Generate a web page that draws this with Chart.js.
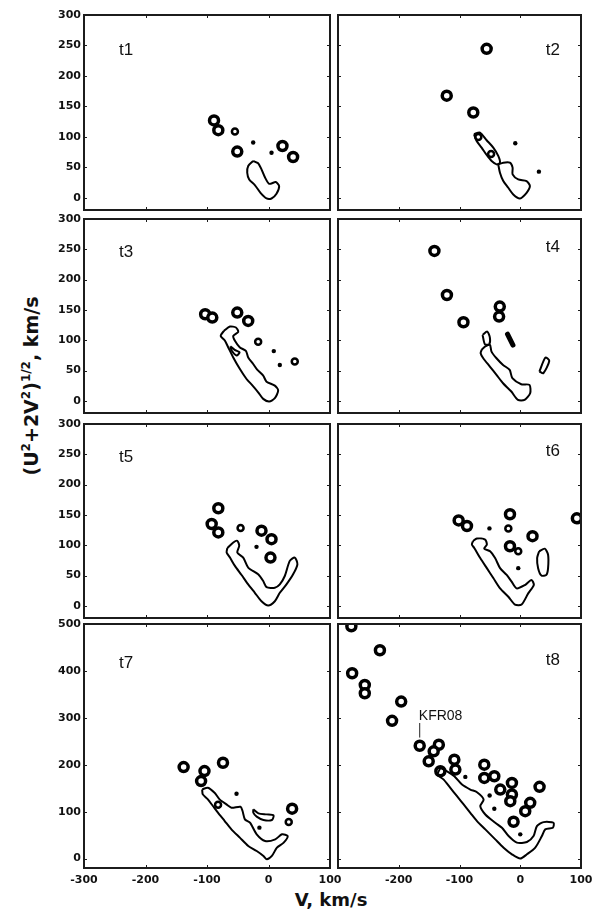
<!DOCTYPE html>
<html>
<head>
<meta charset="utf-8">
<script src="https://cdn.jsdelivr.net/npm/chart.js@4.4.0/dist/chart.umd.min.js"></script>
<style>
  body { margin: 0; background: #fff; width: 601px; height: 924px; position: relative; overflow: hidden; }
  canvas { position: absolute; }
  .ytitle {
    position: absolute; left: 31px; top: 386px;
    transform: translate(-50%, -50%) rotate(-90deg);
    font: bold 19px "DejaVu Sans"; white-space: nowrap; color: #111; line-height: 24px;
  }
  .ytitle sup { font-size: 12px; vertical-align: 8px; line-height: 0; }
  .xtitle {
    position: absolute; left: 331px; top: 889px; transform: translateX(-50%);
    font: bold 18px "DejaVu Sans"; white-space: nowrap; color: #111; line-height: 21px;
  }
</style>
</head>
<body>
<div class="ytitle">(U<sup>2</sup>+2V<sup>2</sup>)<sup>1/2</sup>, km/s</div>
<div class="xtitle">V, km/s</div>
<script>
// V, km/s and (U^2+2V^2)^1/2, km/s
const xTicks = [-300, -200, -100, 0, 100];

const t1Contour = [[-24.9,60.4],[-33,52.2],[-34.6,41.2],[-31.4,30.2],[-22.2,20.9],[-13,8.2],[-3.2,-1.1],[4.9,-1.1],[13,6.6],[17.3,19.2],[11.9,25.8],[1.1,23],[-6,34],[-11.4,46.7],[-16.8,56.6]];
const t1Rings = [[-88.6,127],[-81.6,111],[-50.8,75.8],[22.7,85],[40,67]];
const t1SmallRings = [[-54.6,108.8]];
const t1Dots = [[-24.9,90.7],[4.9,74]];

const t2Chain = [[-76.2,104.4],[-66.3,107.1],[-55.3,94.5],[-44.4,82.4],[-36.2,68.7],[-33.4,57.7],[-38.9,54.9],[-47.1,60.4],[-55.3,70.3],[-63.6,82.4],[-71.8,93.4]];
const t2Contour = [[-36.2,54.9],[-27.9,57.7],[-17,57.7],[-12.6,49.5],[-12.6,38.5],[-3.3,30.2],[10.4,27.5],[15.9,19.2],[10.4,8.2],[-0.5,-1.1],[-11.5,5.5],[-19.7,16.5],[-27.9,27.5],[-33.4,41.2]];
const t2Rings = [[-55.3,244.5],[-121,167.6],[-77.3,140]];
const t2SmallRings = [[-69,100],[-48,72]];
const t2Dots = [[-8.2,89.6],[30.7,42.9]];

const t3Contour = [[-72.4,115.5],[-62.7,122.6],[-53,121],[-49.2,113.8],[-57.3,107.3],[-54.6,99.1],[-46.5,88.1],[-36.8,82.6],[-33,71.7],[-24.9,60.8],[-18.4,51.5],[-8.6,41.6],[-3.2,31.7],[10.3,25.2],[15.7,17],[10.3,4.4],[1.1,-1.1],[-8.6,3.3],[-16.8,14.2],[-25.9,25.2],[-35.7,36.1],[-46.5,52.5],[-57.3,71.7],[-65.4,88.1],[-70.8,99.1],[-77.8,107.3]];
const t3Inner = [[-62,90],[-55,84],[-47,80],[-52,75],[-60,83]];
const t3Rings = [[-103,142.9],[-91.4,137.4],[-50.8,145.6],[-33,131.9]];
const t3SmallRings = [[-16.8,97.4],[42.7,65.1]];
const t3Dots = [[8.6,82.1],[18.4,59.1]];

const t4Contour = [[-63.6,84.1],[-58.2,89.6],[-50,92.3],[-47.3,81.3],[-39.1,70.3],[-28.3,59.3],[-17.4,51.1],[-13,37.4],[1.6,27.5],[15.2,26.4],[16.3,12.6],[7.1,1.6],[-3.8,1.6],[-14.7,15.4],[-28.3,29.1],[-39.1,42.9],[-50,56.6],[-60.9,70.3],[-65.2,78.6]];
const t4Top = [[-62,108.8],[-54.3,114.3],[-50,104.4],[-51.1,93.4],[-58.2,93.4]];
const t4Oval = [[31.5,48.4],[41.3,71.4],[47.8,65.9],[38,45.6]];
const t4Dash = [[-21,110],[-12,92]];
const t4Rings = [[-141.3,247.3],[-120.7,174.7],[-93.5,129.7],[-33.7,155.5],[-34.8,139]];

const t5Contour = [[-67,95.2],[-57.3,104.6],[-50.8,107.4],[-47.6,99.1],[-50.8,88],[-41.1,79.7],[-33,63.1],[-16.8,52],[-8.6,41],[-3.2,31],[10.3,29.9],[18.4,35.4],[26.5,49.3],[34.6,74.2],[42.7,79.7],[47,68.6],[40,52],[29.2,35.4],[18.4,21.6],[10.3,7.7],[-0.5,0.6],[-11.4,7.7],[-22.2,21.6],[-33,35.4],[-43.8,50.9],[-54.6,65.9],[-62.7,79.7],[-68.1,88]];
const t5Rings = [[-81.6,161],[-92.4,135],[-81.6,121.2],[-11.4,124],[4.9,110.1],[3.2,79.7]];
const t5SmallRings = [[-45.4,128.4]];
const t5Dots = [[-19.5,97.4]];

const t6Contour = [[-77.9,106.7],[-71.4,111.1],[-57.8,109.4],[-55,101.1],[-59.4,94.4],[-49.6,90],[-41.4,78.9],[-33.2,62.2],[-22.3,51.1],[-14.2,40],[-6,28.9],[7.6,34.4],[18.5,42.8],[22.3,34.4],[13.1,20.6],[2.2,2.2],[-8.7,2.2],[-19.6,15],[-33.2,28.9],[-44.1,45.6],[-55,62.2],[-65.9,78.9],[-75.7,95.6],[-79.6,101.1]];
const t6Oval = [[31.1,90],[40.3,94.4],[45.8,84.4],[45.8,62.2],[43,51.1],[34.9,50],[29.4,62.2],[27.8,78.9]];
const t6Rings = [[-101.4,141],[-87.7,131.7],[-16.9,151.1],[20.2,115],[93.2,144.4],[-16.9,98.3]];
const t6SmallRings = [[-19.6,127.8],[-3.3,90]];
const t6Dots = [[-50.7,127.8],[-3.3,62.2]];

const t7Contour = [[-107.9,147.5],[-98.6,151.1],[-87.7,140.4],[-79.5,126.2],[-68.5,115.6],[-60.3,108.5],[-45.5,110.6],[-42.2,101.4],[-38.4,83.7],[-30.1,76.6],[-19.2,51.8],[-5.5,37.6],[11,41.1],[21.9,51.8],[31.2,48.2],[24.7,34],[13.7,23.4],[5.5,5.7],[-2.7,-1.4],[-8.2,5.7],[-19.2,16.3],[-32.9,27],[-46.6,44.7],[-60.3,62.4],[-71.2,80.1],[-82.2,97.9],[-90.4,112.1],[-98.6,126.2],[-106.8,136.9]];
const t7Loop = [[-24.7,105],[-16.4,96.5],[-2.7,94.3],[8.2,92.2],[5.5,82.3],[-8.2,82.3],[-19.2,89.4],[-24.7,97.9]];
const t7Rings = [[-138,195],[-74,204.3],[-104.1,186.5],[-109.6,165.2],[38.4,106.4]];
const t7SmallRings = [[32.9,78],[-82,115]];
const t7Dots = [[-52,138.3],[-14.8,66]];

const t8Contour = [[-131.5,193.2],[-120.5,186.1],[-108.5,175.5],[-95.9,157.8],[-82.2,147.2],[-71.2,141.5],[-60.3,126],[-65.8,111.8],[-57.5,94.1],[-41.1,76.4],[-30.1,65.8],[-19.2,48.1],[-5.5,34],[11,35.4],[21.9,48.1],[27.4,69.4],[38.4,77.8],[54.8,76.4],[53.7,65.8],[41.1,62.3],[35.6,48.1],[24.7,23.4],[11,9.2],[0,0],[-13.7,9.2],[-27.4,23.4],[-41.1,41],[-57.5,62.3],[-71.2,80],[-82.2,97.7],[-93.2,115.4],[-104.1,133],[-115.1,150.7],[-126,168.4],[-135.9,179]];
const t8Rings = [[-278,495],[-231,444],[-276.7,395],[-255.9,370],[-255.9,352.4],[-196,334.7],[-211,293.7],[-165.5,240.6],[-134,242.7],[-142.5,228.6],[-150.7,207.4],[-108.5,210.9],[-106.8,189.7],[-131.5,186.1],[-59.2,200.3],[-59.2,172],[-42.7,175.5],[-32.9,147.2],[-13.7,161.4],[-13.7,136.6],[-16.4,122.4],[16.4,118.9],[8.2,101.2],[31.8,152.9],[-11,78.6]];
const t8Dots = [[-90.4,174.1],[-50.4,134.5],[-42.7,106.2],[0,51.7]];
const kfrPointer = [[-165.5,258],[-165.5,289]];

// page layout (pixels)
const colLeft = [84, 338];
const colWidth = [246, 243];
const rowTop = [15, 219, 424, 624];
const rowHeight = [195, 194, 194, 244];
const axisW = 40, axisH = 24, padTop = 8, padRight = 14;

const panels = [
  { name: 't1', col: 0, row: 0, yMax: 300, loops: [t1Contour], rings: t1Rings, small: t1SmallRings, dots: t1Dots },
  { name: 't2', col: 1, row: 0, yMax: 300, loops: [t2Chain, t2Contour], rings: t2Rings, small: t2SmallRings, dots: t2Dots },
  { name: 't3', col: 0, row: 1, yMax: 300, loops: [t3Contour, t3Inner], rings: t3Rings, small: t3SmallRings, dots: t3Dots },
  { name: 't4', col: 1, row: 1, yMax: 300, loops: [t4Contour, t4Top, t4Oval], rings: t4Rings, small: [], dots: [], dashes: [t4Dash] },
  { name: 't5', col: 0, row: 2, yMax: 300, loops: [t5Contour], rings: t5Rings, small: t5SmallRings, dots: t5Dots },
  { name: 't6', col: 1, row: 2, yMax: 300, loops: [t6Contour, t6Oval], rings: t6Rings, small: t6SmallRings, dots: t6Dots },
  { name: 't7', col: 0, row: 3, yMax: 500, loops: [t7Contour, t7Loop], rings: t7Rings, small: t7SmallRings, dots: t7Dots },
  { name: 't8', col: 1, row: 3, yMax: 500, loops: [t8Contour], rings: t8Rings, small: [], dots: t8Dots, pointers: [kfrPointer], note: { text: 'KFR08', x: -167, y: 296 } }
];

const labelOffset = [[35, 40], [21, 40], [35, 38], [21, 33], [35, 38], [21, 32], [35, 44], [21, 41]];

const tickFont = { family: 'DejaVu Sans', weight: 'bold', size: 11 };

function toPoints(arr) {
  return arr.map(p => ({ x: p[0], y: p[1] }));
}

const framePlugin = {
  id: 'frame',
  afterDraw(chart, args, opts) {
    const { ctx, chartArea: a, scales: { x, y } } = chart;
    ctx.save();
    ctx.strokeStyle = '#1c1c1c';
    ctx.lineWidth = 1;
    ctx.beginPath();
    x.ticks.forEach(t => {
      const px = Math.round(x.getPixelForValue(t.value)) + 0.5;
      ctx.moveTo(px, a.top); ctx.lineTo(px, a.top + 3);
      ctx.moveTo(px, a.bottom); ctx.lineTo(px, a.bottom - 3);
    });
    y.ticks.forEach(t => {
      const py = Math.round(y.getPixelForValue(t.value)) + 0.5;
      ctx.moveTo(a.left, py); ctx.lineTo(a.left + 3, py);
      ctx.moveTo(a.right, py); ctx.lineTo(a.right - 3, py);
    });
    ctx.stroke();
    ctx.lineWidth = 2;
    ctx.strokeRect(a.left, a.top, a.right - a.left, a.bottom - a.top);

    ctx.fillStyle = '#111';
    ctx.textBaseline = 'alphabetic';
    ctx.font = '17px "Liberation Sans"';
    if (opts.col === 0) {
      ctx.textAlign = 'left';
      ctx.fillText(opts.label, a.left + opts.dx, a.top + opts.dy);
    } else {
      ctx.textAlign = 'right';
      ctx.fillText(opts.label, a.right - opts.dx, a.top + opts.dy);
    }
    if (opts.note) {
      ctx.textAlign = 'left';
      ctx.font = '14px "Liberation Sans"';
      ctx.fillText(opts.note.text, x.getPixelForValue(opts.note.x), y.getPixelForValue(opts.note.y));
    }
    ctx.restore();
  }
};

panels.forEach((p, i) => {
  const canvas = document.createElement('canvas');
  const w = axisW + colWidth[p.col] + padRight;
  const h = padTop + rowHeight[p.row] + axisH;
  canvas.width = w;
  canvas.height = h;
  canvas.style.left = (colLeft[p.col] - axisW) + 'px';
  canvas.style.top = (rowTop[p.row] - padTop) + 'px';
  document.body.appendChild(canvas);

  const datasets = [];
  p.loops.forEach(loop => {
    datasets.push({
      data: toPoints(loop.concat([loop[0]])),
      showLine: true, borderColor: '#000', borderWidth: 2, pointRadius: 0, tension: 0.25
    });
  });
  (p.dashes || []).forEach(d => {
    datasets.push({ data: toPoints(d), showLine: true, borderColor: '#000', borderWidth: 5, pointRadius: 0, borderCapStyle: 'round' });
  });
  (p.pointers || []).forEach(d => {
    datasets.push({ data: toPoints(d), showLine: true, borderColor: '#222', borderWidth: 1, pointRadius: 0 });
  });
  datasets.push({
    data: toPoints(p.rings), showLine: false, pointStyle: 'circle',
    pointRadius: 4.5, pointBorderWidth: 3.5, pointBackgroundColor: '#fff', pointBorderColor: '#000'
  });
  datasets.push({
    data: toPoints(p.small), showLine: false, pointStyle: 'circle',
    pointRadius: 3, pointBorderWidth: 2.5, pointBackgroundColor: '#fff', pointBorderColor: '#000'
  });
  datasets.push({
    data: toPoints(p.dots), showLine: false, pointStyle: 'circle',
    pointRadius: 2.2, pointBorderWidth: 0, pointBackgroundColor: '#000'
  });

  new Chart(canvas.getContext('2d'), {
    type: 'scatter',
    data: { datasets },
    options: {
      responsive: false,
      animation: false,
      layout: { padding: { top: padTop, right: padRight, left: 0, bottom: 0 } },
      plugins: {
        legend: { display: false },
        tooltip: { enabled: false },
        frame: { label: p.name, col: p.col, dx: labelOffset[i][0], dy: labelOffset[i][1], note: p.note }
      },
      scales: {
        x: {
          type: 'linear', min: xTicks[0], max: xTicks[xTicks.length - 1],
          grid: { display: false, drawTicks: false }, border: { display: false },
          afterBuildTicks: s => { s.ticks = xTicks.map(v => ({ value: v })); },
          ticks: {
            display: p.row === 3, padding: 6, font: tickFont, color: '#111',
            maxRotation: 0, autoSkip: false,
            callback: v => (p.col === 1 && v === -300) ? '' : v
          },
          afterFit: s => { s.height = axisH; s.paddingLeft = 0; s.paddingRight = 0; }
        },
        y: {
          type: 'linear', min: -20, max: p.yMax,
          grid: { display: false, drawTicks: false }, border: { display: false },
          ticks: {
            display: p.col === 0, stepSize: p.yMax === 500 ? 100 : 50, includeBounds: false,
            padding: 3, font: tickFont, color: '#111'
          },
          afterFit: s => { s.width = axisW; s.paddingTop = 0; s.paddingBottom = 0; }
        }
      }
    },
    plugins: [framePlugin]
  });
});
</script>
</body>
</html>
